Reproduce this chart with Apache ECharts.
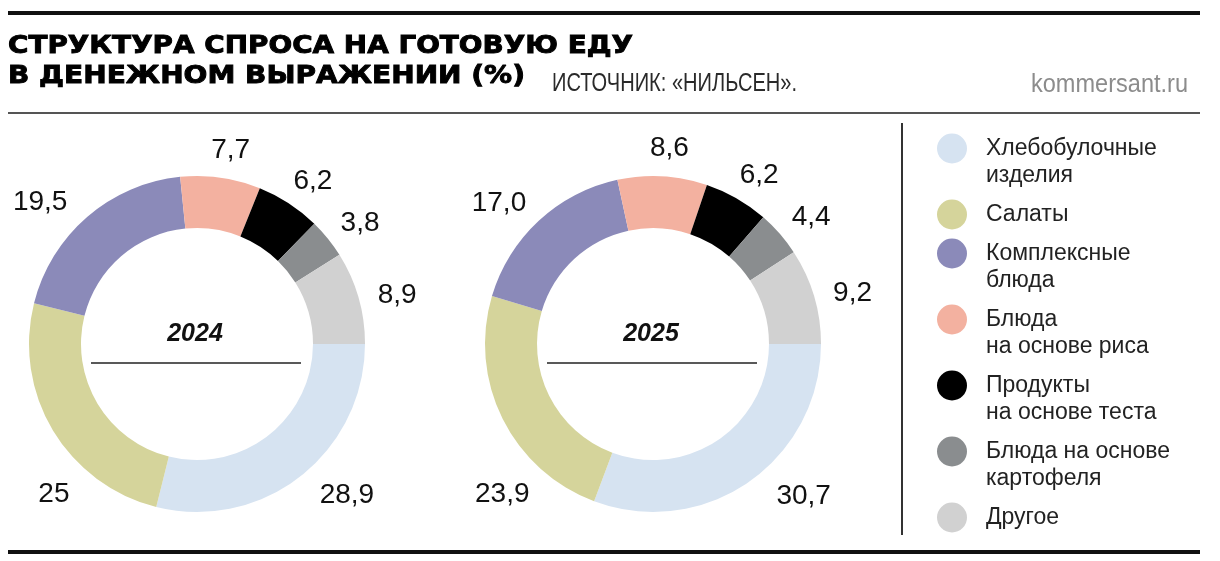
<!DOCTYPE html>
<html>
<head>
<meta charset="utf-8">
<script src="https://cdn.jsdelivr.net/npm/echarts@6/dist/echarts.min.js"></script>
<style>
html,body{margin:0;padding:0;background:#fff;}
#c{width:1220px;height:561px;}
</style>
</head>
<body>
<div id="c"></div>
<script>
// ---- data ----
const categories = ['Хлебобулочные\nизделия', 'Салаты', 'Комплексные\nблюда', 'Блюда\nна основе риса', 'Продукты\nна основе теста', 'Блюда на основе\nкартофеля', 'Другое'];
const years = ['2024', '2025'];
const values2024 = [28.9, 25, 19.5, 7.7, 6.2, 3.8, 8.9];
const values2025 = [30.7, 23.9, 17.0, 8.6, 6.2, 4.4, 9.2];
const labels2024 = ['28,9', '25', '19,5', '7,7', '6,2', '3,8', '8,9'];
const labels2025 = ['30,7', '23,9', '17,0', '8,6', '6,2', '4,4', '9,2'];
const titleLines = ['СТРУКТУРА СПРОСА НА ГОТОВУЮ ЕДУ', 'В ДЕНЕЖНОМ ВЫРАЖЕНИИ (%)'];
const sourceText = 'ИСТОЧНИК: «НИЛЬСЕН».';
const siteText = 'kommersant.ru';

// ---- styles / layout ----
const colors = ['#d6e3f1', '#d5d49b', '#8b8ab9', '#f3b1a0', '#000000', '#8a8d8f', '#d1d1d1'];
const FONT = '"Liberation Sans", Arial, sans-serif';
const TITLE_FONT = '"DejaVu Sans", "Liberation Sans", sans-serif';
const centers = [[197, 344], [653, 344]];
const pieRadius = [116, 168];
const labelRing = [168, 232];
const labelShift = [5, 7];
// label nudges for the hand-placed labels (label styling only)
const labelNudges = [
  {0: [25, -9], 1: [31, 46], 2: [-24, 12]},
  {0: [35, -15], 1: [31, 60], 2: [-16, 8]}
];

const ctx = document.createElement('canvas').getContext('2d');
function fitScale(text, font, target) {
  ctx.font = font;
  return target / ctx.measureText(text).width;
}

const chart = echarts.init(document.getElementById('c'), null, {renderer: 'canvas', width: 1220, height: 561});

const allValues = [values2024, values2025];
const allLabels = [labels2024, labels2025];

const series = [];
years.forEach((y, k) => {
  series.push({
    type: 'pie',
    name: y,
    center: centers[k],
    radius: pieRadius,
    startAngle: 0,
    clockwise: true,
    avoidLabelOverlap: false,
    label: {show: false},
    labelLine: {show: false},
    emphasis: {scale: false},
    itemStyle: {borderWidth: 0},
    data: categories.map((n, i) => ({name: n, value: allValues[k][i], itemStyle: {color: colors[i]}}))
  });
});
years.forEach((y, k) => {
  series.push({
    type: 'pie',
    name: y + ' labels',
    center: centers[k],
    radius: labelRing,
    startAngle: 0,
    clockwise: true,
    silent: true,
    avoidLabelOverlap: false,
    itemStyle: {color: 'rgba(0,0,0,0)', borderWidth: 0},
    emphasis: {disabled: true},
    labelLine: {show: false},
    label: {
      show: true,
      position: 'inside',
      rotate: 0,
      offset: labelShift,
      formatter: p => allLabels[k][p.dataIndex],
      color: '#111',
      fontSize: 28,
      fontFamily: FONT,
      textBorderWidth: 0
    },
    data: categories.map((n, i) => {
      const d = {name: n, value: allValues[k][i]};
      if (labelNudges[k][i]) d.label = {offset: labelNudges[k][i]};
      return d;
    })
  });
});

// legends: one per item so the dot lines up with the first text line
const LINE_H = 27, GAP = 12, ICON = 30, ICON_W = 58;
const legendCenterX = 952;
let iconCenter = 148.5;
const legends = [];
categories.forEach((name, i) => {
  const n = name.split('\n').length;
  const totalLines = n === 1 ? 1 : 2 * n - 1;
  const boxTopRel = Math.min(0, ICON / 2 - totalLines * LINE_H / 2);
  legends.push({
    data: [name],
    orient: 'vertical',
    left: legendCenterX - ICON / 2,
    top: iconCenter - ICON / 2 + boxTopRel,
    padding: 0,
    itemWidth: ICON_W,
    itemHeight: ICON,
    icon: 'circle',
    formatter: nm => n === 1 ? nm : '{s| }\n'.repeat(n - 1) + nm,
    textStyle: {
      fontSize: 23, fontFamily: FONT, color: '#222', lineHeight: LINE_H,
      rich: {s: {fontSize: 23, lineHeight: LINE_H, fontFamily: FONT}}
    }
  });
  iconCenter += n * LINE_H + GAP;
});

const tFont = 'bold 25px ' + TITLE_FONT;
const sFont = '26px ' + FONT;
const graphic = [
  {type: 'rect', shape: {x: 8, y: 11, width: 1192, height: 4}, style: {fill: '#111'}},
  {type: 'rect', shape: {x: 8, y: 112, width: 1192, height: 2}, style: {fill: '#555'}},
  {type: 'rect', shape: {x: 8, y: 550, width: 1192, height: 4}, style: {fill: '#111'}},
  {type: 'rect', shape: {x: 901, y: 123, width: 2, height: 412}, style: {fill: '#333'}},
  {type: 'text', x: 8, y: 46.5, scaleX: fitScale(titleLines[0], tFont, 625),
    style: {text: titleLines[0], font: tFont, fill: '#000', stroke: '#000', lineWidth: 0.9, align: 'left', verticalAlign: 'middle'}},
  {type: 'text', x: 8, y: 76, scaleX: fitScale(titleLines[1], tFont, 517),
    style: {text: titleLines[1], font: tFont, fill: '#000', stroke: '#000', lineWidth: 0.9, align: 'left', verticalAlign: 'middle'}},
  {type: 'text', x: 552, y: 83.5, scaleX: fitScale(sourceText, sFont, 245),
    style: {text: sourceText, font: sFont, fill: '#2a2a2a', align: 'left', verticalAlign: 'middle'}},
  {type: 'text', x: 1188, y: 85, scaleX: fitScale(siteText, sFont, 157),
    style: {text: siteText, font: sFont, fill: '#8c8c8c', align: 'right', verticalAlign: 'middle'}}
];
years.forEach((y, k) => {
  const [cx, cy] = centers[k];
  graphic.push({type: 'text', x: cx - 2, y: 334,
    style: {text: y, font: 'italic bold 25px ' + FONT, fill: '#111', align: 'center', verticalAlign: 'middle'}});
  graphic.push({type: 'line', shape: {x1: cx - 106, y1: 363, x2: cx + 104, y2: 363},
    style: {stroke: '#222', lineWidth: 1.5}});
});

chart.setOption({
  backgroundColor: '#fff',
  animation: false,
  legend: legends,
  graphic: graphic,
  series: series
});
</script>
</body>
</html>
